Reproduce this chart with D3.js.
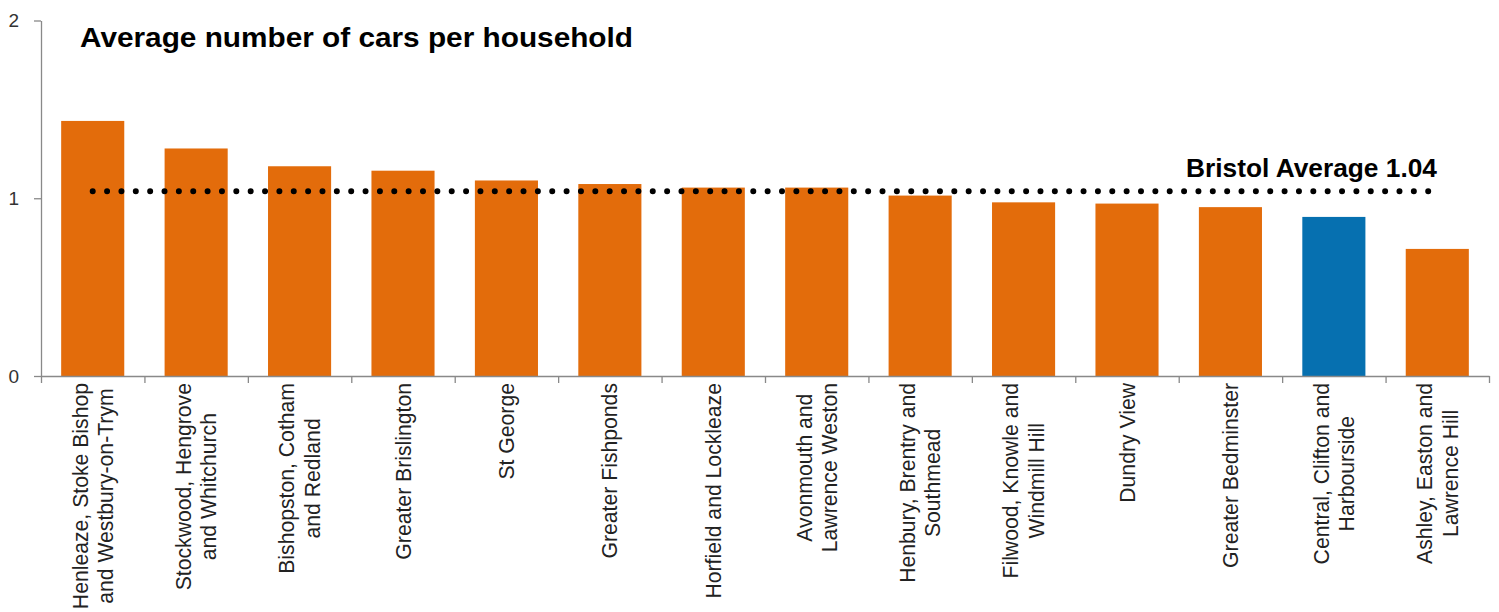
<!DOCTYPE html>
<html lang="en">
<head>
  <meta charset="UTF-8">
  <title>Average number of cars per household</title>
  <script src="https://d3js.org/d3.v7.min.js"></script>
  <style>
    body {
      margin: 0;
      background: #fff;
      font-family: "Liberation Sans", Arial, sans-serif;
    }
    .axis path, .axis line {
      stroke: #898989;
      stroke-width: 1.3;
    }
    .axis text {
      fill: #333;
      font-size: 19px;
      font-family: "Liberation Sans", Arial, sans-serif;
    }
    .cat-label {
      fill: #222;
      font-size: 21.2px;
    }
  </style>
</head>
<body>
  <div id="chart"></div>

  <script>
    // areas (one entry per bar, split into the lines shown under the axis)
    const areas = [
      ["Henleaze, Stoke Bishop", "and Westbury-on-Trym"],
      ["Stockwood, Hengrove", "and Whitchurch"],
      ["Bishopston, Cotham", "and Redland"],
      ["Greater Brislington"],
      ["St George"],
      ["Greater Fishponds"],
      ["Horfield and Lockleaze"],
      ["Avonmouth and", "Lawrence Weston"],
      ["Henbury, Brentry and", "Southmead"],
      ["Filwood, Knowle and", "Windmill Hill"],
      ["Dundry View"],
      ["Greater Bedminster"],
      ["Central, Clifton and", "Harbourside"],
      ["Ashley, Easton and", "Lawrence Hill"]
    ];
    const carsPerHousehold = [1.435, 1.28, 1.18, 1.155, 1.10, 1.08, 1.06, 1.06, 1.015, 0.977, 0.97, 0.95, 0.895, 0.715];
    const highlighted = "Central, Clifton and Harbourside";
    const bristolAverage = 1.04;
    const yTicks = [0, 1, 2];

    const W = 1499, H = 612;
    const plotLeft = 41, plotRight = 1489, plotTop = 20.5, plotBottom = 376;

    const names = areas.map(a => a.join(" "));

    const svg = d3.select("#chart")
      .append("svg")
      .attr("width", W)
      .attr("height", H);

    const x = d3.scaleBand()
      .domain(names)
      .range([plotLeft, plotRight])
      .paddingInner(0.39)
      .paddingOuter(0.195);

    const y = d3.scaleLinear()
      .domain([0, 2])
      .range([plotBottom, plotTop]);

    // bars
    svg.append("g")
      .selectAll("rect")
      .data(names)
      .join("rect")
      .attr("x", d => x(d))
      .attr("y", (d, i) => y(carsPerHousehold[i]))
      .attr("width", x.bandwidth())
      .attr("height", (d, i) => y(0) - y(carsPerHousehold[i]))
      .attr("fill", d => d === highlighted ? "#0670b0" : "#e36c0b");

    // y axis
    svg.append("g")
      .attr("class", "axis")
      .attr("transform", `translate(${plotLeft},0)`)
      .call(d3.axisLeft(y).tickValues(yTicks).tickFormat(d3.format("d")).tickSize(7).tickPadding(15).tickSizeOuter(0));

    // x axis, ticks on the boundaries between categories
    const xb = d3.scaleLinear().domain([0, names.length]).range([plotLeft, plotRight]);
    svg.append("g")
      .attr("class", "axis")
      .attr("transform", `translate(0,${plotBottom})`)
      .call(d3.axisBottom(xb).tickValues(d3.range(names.length + 1)).tickFormat("").tickSize(7).tickSizeOuter(0));

    // category labels, rotated, hanging from the axis
    const labelTop = 383;
    const lineH = 25.5;
    names.forEach((name, i) => {
      const lines = areas[i];
      const cx = x(name) + x.bandwidth() / 2;
      const g = svg.append("g")
        .attr("transform", `translate(${cx},${labelTop}) rotate(-90)`);
      const texts = g.selectAll("text")
        .data(lines)
        .join("text")
        .attr("class", "cat-label")
        .attr("text-anchor", "middle")
        .attr("y", (d, j) => (j - (lines.length - 1) / 2) * lineH + 7.6)
        .text(d => d);
      let maxLen = 0;
      texts.each(function() { maxLen = Math.max(maxLen, this.getComputedTextLength()); });
      texts.attr("x", -maxLen / 2);
    });

    // Bristol average dotted line
    const x0 = x(names[0]) + x.bandwidth() / 2;
    const x1 = x(names[names.length - 1]) + x.bandwidth() / 2;
    svg.append("line")
      .attr("x1", x0)
      .attr("x2", x1)
      .attr("y1", y(bristolAverage))
      .attr("y2", y(bristolAverage))
      .attr("stroke", "#000")
      .attr("stroke-width", 6)
      .attr("stroke-linecap", "round")
      .attr("stroke-dasharray", "0,14.36");

    svg.append("text")
      .attr("x", 1186)
      .attr("y", 176.5)
      .attr("font-size", 25)
      .attr("font-weight", "bold")
      .attr("fill", "#000")
      .attr("textLength", 251)
      .attr("lengthAdjust", "spacingAndGlyphs")
      .text(`Bristol Average ${bristolAverage.toFixed(2)}`);

    // title
    svg.append("text")
      .attr("x", 80)
      .attr("y", 46.5)
      .attr("font-size", 27)
      .attr("font-weight", "bold")
      .attr("fill", "#000")
      .attr("textLength", 553)
      .attr("lengthAdjust", "spacingAndGlyphs")
      .text("Average number of cars per household");
  </script>
</body>
</html>
